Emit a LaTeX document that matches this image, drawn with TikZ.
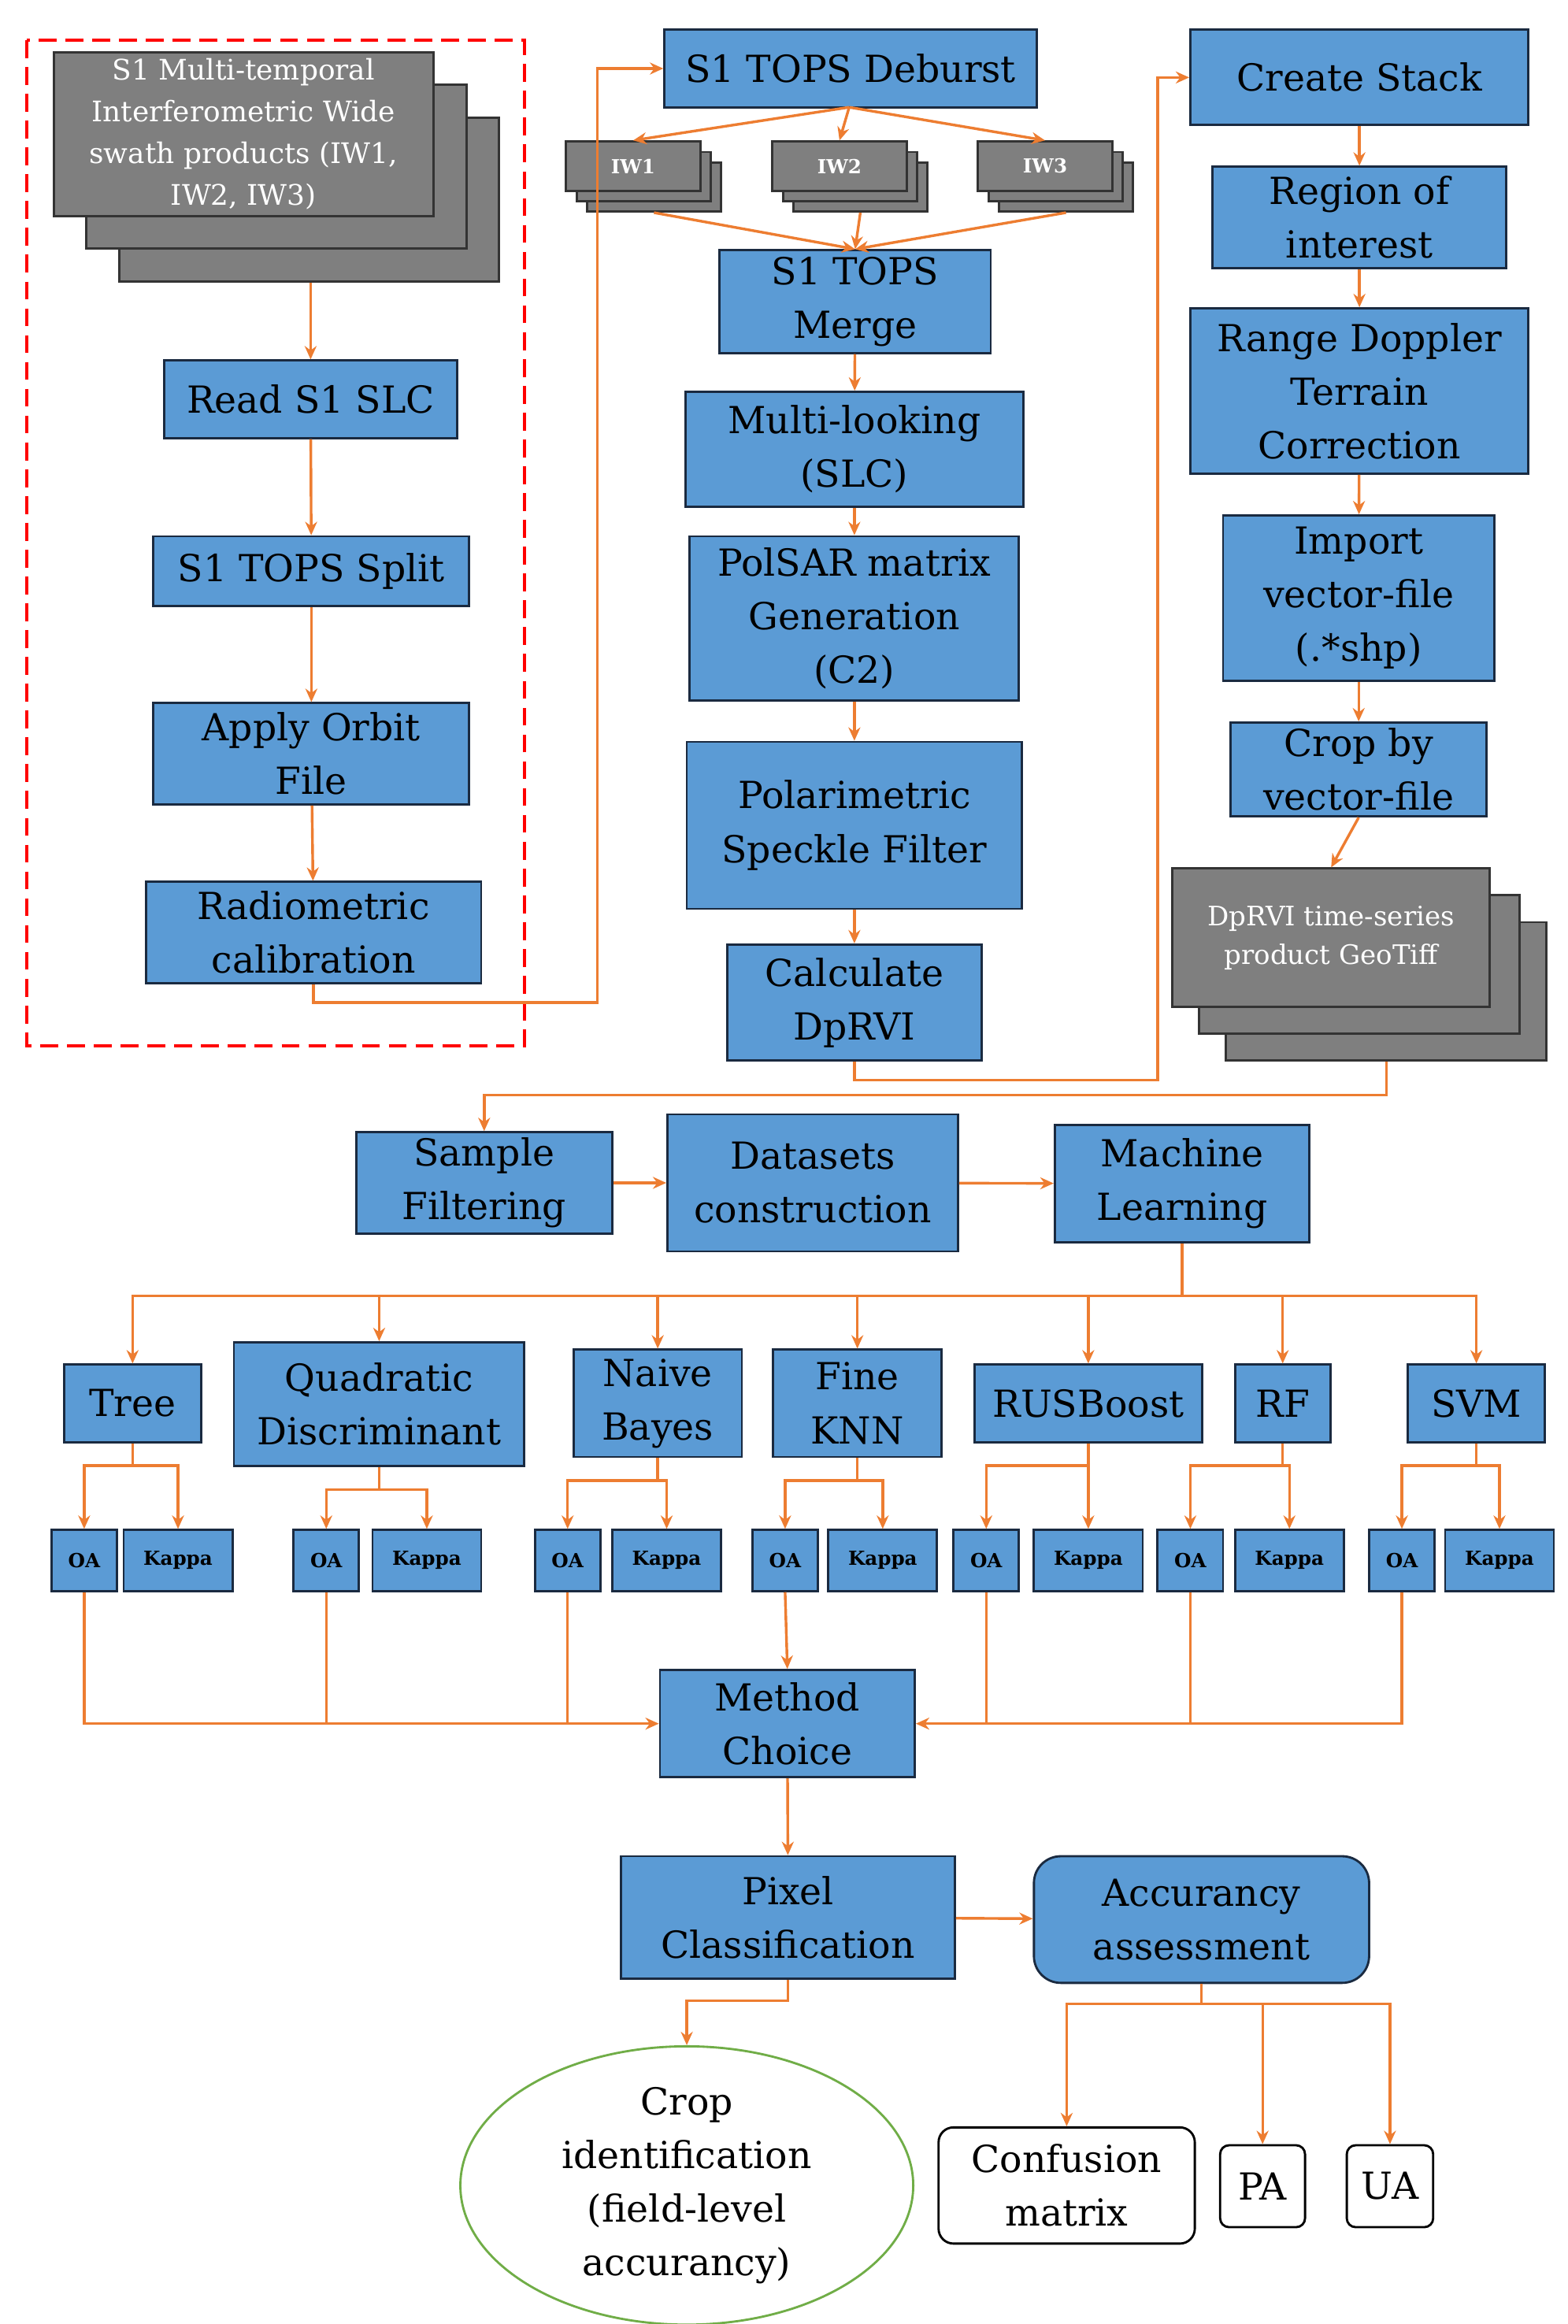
\documentclass[tikz,border=0pt]{standalone}
\usepackage{fontspec}
\setmainfont{DejaVu Serif}
\usetikzlibrary{arrows.meta,shapes.geometric}
\definecolor{bfill}{HTML}{5B9BD5}
\definecolor{bdraw}{HTML}{1A2A40}
\definecolor{org}{HTML}{ED7D31}
\definecolor{gfill}{HTML}{7F7F7F}
\definecolor{grn}{HTML}{70AD47}
\begin{document}
\begin{tikzpicture}[x=1pt,y=-1pt,
 box/.style={draw=bdraw,fill=bfill,line width=1.5pt,align=center,inner sep=1pt,font=\fontsize{25}{36}\selectfont},
 gbox/.style={draw=black!80,fill=gfill,line width=1.5pt,text=white,align=center,inner sep=1pt},
 sm/.style={box,font=\bfseries\fontsize{13}{15}\selectfont,minimum height=41,minimum width=44},
 wbox/.style={draw=black,fill=white,rounded corners=10pt,line width=1.5pt,align=center,font=\fontsize{25}{36}\selectfont},
 ar/.style={draw=org,line width=1.8pt,-{Stealth[length=9pt,width=8pt]}},
 ln/.style={draw=org,line width=1.8pt}]
\useasboundingbox (0,0) rectangle (1052,1560);
% left dashed block
\draw[red,dashed,line width=2pt,dash pattern=on 12pt off 6pt] (18,27) rectangle (352,702);
\node[gbox,minimum width=255,minimum height=110] (g3) at (207.5,134) {};
\node[gbox,minimum width=255,minimum height=110] (g2) at (185.5,112) {};
\node[gbox,minimum width=255,minimum height=110,font=\fontsize{19}{28}\selectfont] (g1) at (163.5,90) {S1 Multi-temporal\\Interferometric Wide\\swath products (IW1,\\IW2, IW3)};
\node[box,minimum width=197,minimum height=52] (read) at (208.5,268) {Read S1 SLC};
\node[box,minimum width=212,minimum height=47] (split) at (209,383.5) {S1 TOPS Split};
\node[box,minimum width=212,minimum height=68] (orbit) at (209,506) {Apply Orbit\\File};
\node[box,minimum width=225,minimum height=68] (radio) at (210.5,626) {Radiometric\\calibration};
% middle column
\node[box,minimum width=250,minimum height=52] (deb) at (571,46) {S1 TOPS Deburst};
\foreach \n/\x in {IW1/425,IW2/563.5,IW3/701.5}{
 \node[gbox,minimum width=90,minimum height=33] (\n c) at (\x+14,125.5) {};
 \node[gbox,minimum width=90,minimum height=33] (\n b) at (\x+7,118.5) {};
 \node[gbox,minimum width=90,minimum height=33,font=\bfseries\fontsize{13}{15}\selectfont] (\n) at (\x,111.5) {\n};
}
\node[box,minimum width=182,minimum height=69] (merge) at (574,202.5) {S1 TOPS\\Merge};
\node[box,minimum width=227,minimum height=77] (multi) at (573.5,301.5) {Multi-looking\\(SLC)};
\node[box,minimum width=221,minimum height=110] (pol) at (573.5,415) {PolSAR matrix\\Generation\\(C2)};
\node[box,minimum width=225,minimum height=112] (spk) at (573.5,554) {Polarimetric\\Speckle Filter};
\node[box,minimum width=171,minimum height=78] (calc) at (573.5,673) {Calculate\\DpRVI};
% right column
\node[box,minimum width=227,minimum height=64] (cs) at (912.5,52) {Create Stack};
\node[box,minimum width=197,minimum height=68] (roi) at (912.5,146) {Region of\\interest};
\node[box,minimum width=227,minimum height=111] (rd) at (912.5,262.5) {Range Doppler\\Terrain\\Correction};
\node[box,minimum width=182,minimum height=111] (imp) at (912,401.5) {Import\\vector-file\\(.*shp)};
\node[box,minimum width=172,minimum height=63] (crop) at (912,516.5) {Crop by\\vector-file};
\node[gbox,minimum width=215,minimum height=93] (s3) at (930.5,665.5) {};
\node[gbox,minimum width=215,minimum height=93] (s2) at (912.5,647.5) {};
\node[gbox,minimum width=213,minimum height=93,font=\fontsize{18}{26}\selectfont] (s1) at (893.5,629.5) {DpRVI time-series\\product GeoTiff};
% ML row
\node[box,minimum width=172,minimum height=68] (samp) at (325,794) {Sample\\Filtering};
\node[box,minimum width=195,minimum height=92] (data) at (545.5,794) {Datasets\\construction};
\node[box,minimum width=171,minimum height=79] (ml) at (793.5,794.5) {Machine\\Learning};
% classifiers
\node[box,minimum width=92,minimum height=52] (Tree) at (89,942) {Tree};
\node[box,minimum width=195,minimum height=83] (QD) at (254.5,942.5) {Quadratic\\Discriminant};
\node[box,minimum width=113,minimum height=72] (NB) at (441.5,942) {Naive\\Bayes};
\node[box,minimum width=113,minimum height=72] (KNN) at (575.5,942) {Fine\\KNN};
\node[box,minimum width=153,minimum height=52] (RUS) at (730.5,942) {RUSBoost};
\node[box,minimum width=64,minimum height=52] (RF) at (861,942) {RF};
\node[box,minimum width=92,minimum height=52] (SVM) at (991,942) {SVM};
\coordinate (mlj) at (793.5,870);
\draw[ln] (ml.south) -- (mlj);
\foreach \n/\ox/\kx in {Tree/56.5/119.5,QD/219/286.5,NB/381/447.5,KNN/527/592.5,RUS/662/730.5,RF/799/865.5,SVM/941/1006.5}{
 \draw[ar] (mlj) -| (\n.north);
 \node[sm] (\n OA) at (\ox,1047.5) {OA};
 \node[sm,minimum width=73] (\n K) at (\kx,1047.5) {Kappa};
 \path (\n.south) ++(0,15) coordinate (\n j);
 \draw[ln] (\n.south) -- (\n j);
 \draw[ar] (\n j) -| (\n OA.north);
 \draw[ar] (\n j) -| (\n K.north);
}
\node[box,minimum width=171,minimum height=72] (mc) at (528.5,1157) {Method\\Choice};
\node[box,minimum width=224,minimum height=82] (pix) at (529,1287) {Pixel\\Classification};
\node[wbox,fill=bfill,draw=bdraw,rounded corners=18pt,minimum width=225,minimum height=85] (acc) at (806.5,1288.5) {Accurancy\\assessment};
\node[ellipse,draw=grn,line width=1.5pt,minimum width=304,minimum height=172,align=center,inner sep=0pt,font=\fontsize{25}{36}\selectfont] (ci) at (461,1467) {Crop\\identification\\(field-level\\accurancy)};
\node[wbox,minimum width=172,minimum height=78] (cm) at (716,1467) {Confusion\\matrix};
\node[wbox,rounded corners=6pt,minimum width=57,minimum height=55] (pa) at (847.5,1467.5) {PA};
\node[wbox,rounded corners=6pt,minimum width=58,minimum height=55] (ua) at (933,1467.5) {UA};
% connectors left
\draw[ar] (g3.south -| read.north) -- (read.north);
\draw[ar] (read) -- (split);
\draw[ar] (split) -- (orbit);
\draw[ar] (orbit) -- (radio);
\coordinate (r1) at (401,673);
\draw[ar] (radio.south) |- (r1) |- (deb.west);
\coordinate (dj) at (570,72);
\foreach \n in {IW1,IW2,IW3}{
 \draw[ar] (dj) -- (\n.north);
 \draw[ar] (\n c.south) -- (merge.north);
}
\draw[ar] (merge) -- (multi);
\draw[ar] (multi) -- (pol);
\draw[ar] (pol) -- (spk);
\draw[ar] (spk) -- (calc);
\coordinate (c2) at (777,725);
\draw[ar] (calc.south) |- (c2) |- (cs.west);
\draw[ar] (cs) -- (roi);
\draw[ar] (roi) -- (rd);
\draw[ar] (rd) -- (imp);
\draw[ar] (imp) -- (crop);
\draw[ar] (crop.south) -- (s1.north);
\coordinate (c3) at (325,735);
\draw[ar] (s3.south) |- (c3) -- (samp.north);
\draw[ar] (samp) -- (data);
\draw[ar] (data) -- (ml);
% OA to method choice
\draw[ar] (TreeOA.south) |- (mc.west);
\draw[ln] (QDOA.south) -- (QDOA.south |- mc.west);
\draw[ln] (NBOA.south) -- (NBOA.south |- mc.west);
\draw[ar] (KNNOA.south) -- (mc.north);
\draw[ar] (SVMOA.south) |- (mc.east);
\draw[ln] (RUSOA.south) -- (RUSOA.south |- mc.east);
\draw[ln] (RFOA.south) -- (RFOA.south |- mc.east);
\draw[ar] (mc) -- (pix);
\draw[ar] (pix) -- (acc);
\coordinate (p1) at (461,1343);
\draw[ar] (pix.south) |- (p1) -- (ci.north);
\coordinate (a1) at (806.5,1345);
\draw[ln] (acc.south) -- (a1);
\draw[ar] (a1) -| (cm.north);
\draw[ar] (a1) -| (pa.north);
\draw[ar] (a1) -| (ua.north);
\end{tikzpicture}
\end{document}
